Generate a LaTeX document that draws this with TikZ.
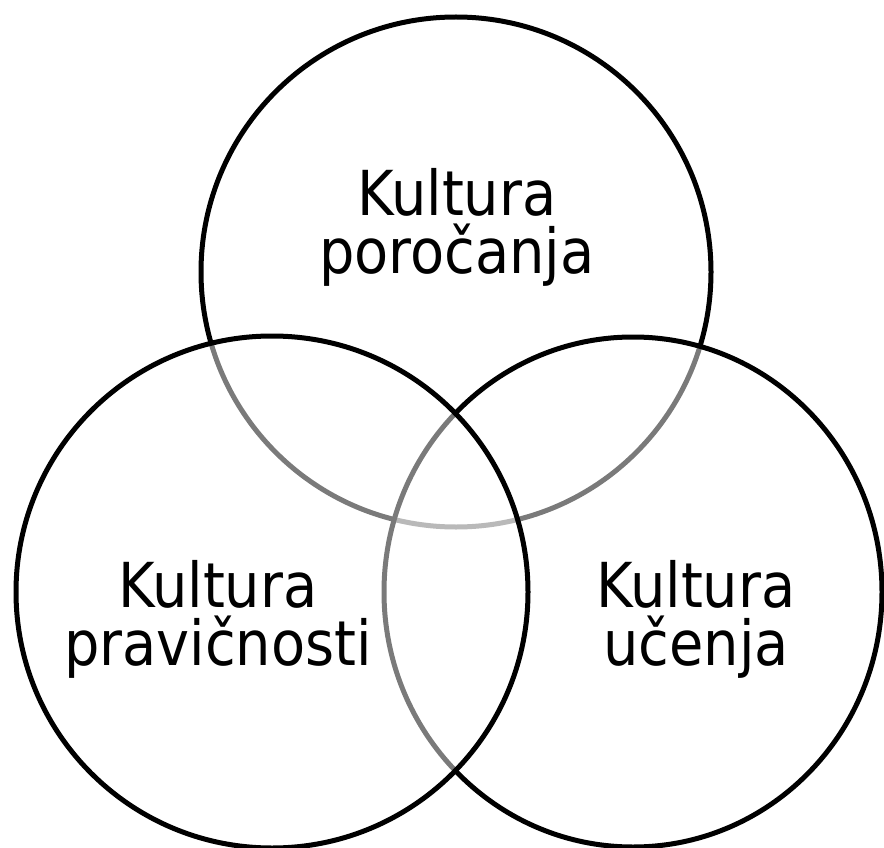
\documentclass[tikz,border=0pt]{standalone}
\usepackage{fontspec}
\setmainfont{DejaVu Sans Condensed}
\begin{document}
\begin{tikzpicture}[x=1pt,y=-1pt,
  ring/.style={draw=black,line width=5pt,fill=white,fill opacity=0.48},
  lbl/.style={align=center,inner sep=0pt,font=\fontsize{62}{58}\selectfont}]
\useasboundingbox (0,0) rectangle (884,848);
\path[ring] (456,272) circle[radius=255];
\path[ring] (633,592) ellipse[x radius=249,y radius=255];
\path[ring] (272,592) circle[radius=256];
\node[lbl] (top) at (457,227) {Kultura\\poročanja};
\node[lbl] (left) at (218,619) {Kultura\\pravičnosti};
\node[lbl] (right) at (696,619) {Kultura\\učenja};
\end{tikzpicture}
\end{document}
